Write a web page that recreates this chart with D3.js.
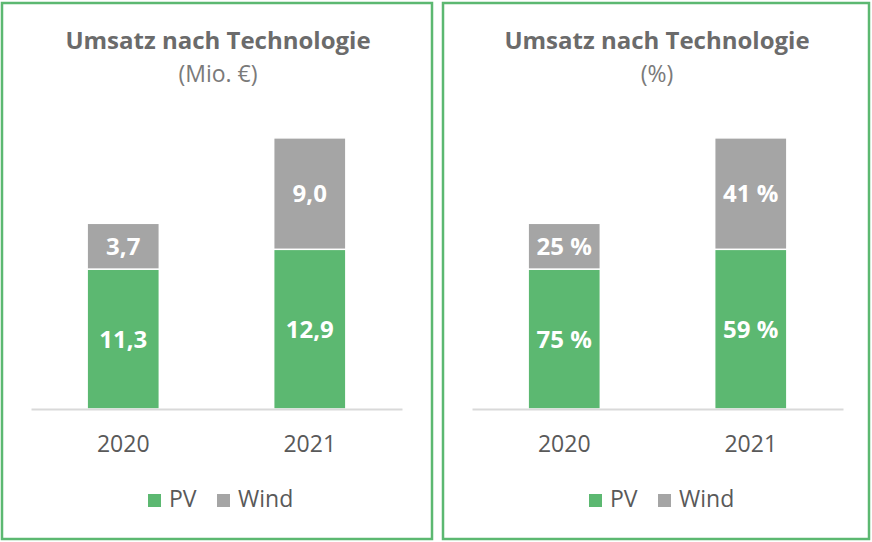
<!DOCTYPE html>
<html><head><meta charset="utf-8">
<script src="https://cdn.jsdelivr.net/npm/d3@7"></script>
<style>
html,body{margin:0;padding:0;background:#fff;}
svg{display:block;font-family:"Open Sans",sans-serif;}
</style></head>
<body><svg id="c" width="872" height="542"></svg>
<script>
const categories = ["2020", "2021"];
const seriesNames = ["PV", "Wind"];
const pvValues = [11.3, 12.9];
const windValues = [3.7, 9.0];
const pvPercent = [75, 59];
const windPercent = [25, 41];
const titles = ["Umsatz nach Technologie", "Umsatz nach Technologie"];
const subtitles = ["(Mio. €)", "(%)"];

const colors = {PV: "#5cb871", Wind: "#a5a5a5"};
const de = d3.formatLocale({decimal: ",", thousands: ".", grouping: [3], currency: ["", " €"]});
const fmtMio = de.format(".1f");
const fmtPct = d => d + " %";

const rows = categories.map((c, i) => ({cat: c, PV: pvValues[i], Wind: windValues[i], i}));
const stacked = d3.stack().keys(seriesNames)(rows);

const svg = d3.select("#c");

const panels = [
  {x0: 2, x1: 432, labels: {PV: pvValues.map(fmtMio), Wind: windValues.map(fmtMio)}},
  {x0: 443, x1: 869, labels: {PV: pvPercent.map(fmtPct), Wind: windPercent.map(fmtPct)}}
];

panels.forEach((p, pi) => {
  const g = svg.append("g");
  g.append("rect").attr("x", p.x0).attr("y", 3).attr("width", p.x1 - p.x0).attr("height", 536)
    .attr("fill", "#fff").attr("stroke", "#5cb871").attr("stroke-width", 2.5);
  const cx = (p.x0 + p.x1) / 2 + 1;
  g.append("text").attr("x", cx).attr("y", 49).attr("text-anchor", "middle")
    .attr("font-size", 24).attr("font-weight", 700).attr("fill", "#6b6b6b").text(titles[pi]);
  g.append("text").attr("x", cx).attr("y", 82).attr("text-anchor", "middle")
    .attr("font-size", 23).attr("fill", "#7a7a7a").text(subtitles[pi]);

  const axL = p.x0 + 29, axR = p.x0 + 400;
  const x = d3.scaleBand().domain(categories).range([axL, axR]).paddingInner(0.613).paddingOuter(0.301);
  const y = d3.scaleLinear().domain([0, 25]).range([409, 409 - 309.5]);

  stacked.forEach(layer => {
    const key = layer.key;
    g.append("g").selectAll("rect").data(layer).join("rect")
      .attr("x", d => x(d.data.cat)).attr("width", x.bandwidth())
      .attr("y", d => y(d[1])).attr("height", d => y(d[0]) - y(d[1]))
      .attr("fill", colors[key]).attr("stroke", "#fff").attr("stroke-width", 1.5);
    g.append("g").selectAll("text").data(layer).join("text")
      .attr("x", d => x(d.data.cat) + x.bandwidth() / 2)
      .attr("y", d => (y(d[0]) + y(d[1])) / 2)
      .attr("dy", "0.36em").attr("text-anchor", "middle")
      .attr("font-size", 24).attr("font-weight", 700).attr("fill", "#fff")
      .text(d => p.labels[key][d.data.i]);
  });

  const axis = g.append("g").attr("transform", "translate(0,409)")
    .call(d3.axisBottom(x).tickSize(0).tickPadding(27));
  axis.select(".domain").attr("stroke", "#d9d9d9").attr("stroke-width", 2);
  axis.selectAll("text").attr("font-size", 23).attr("fill", "#595959")
    .attr("font-family", "Open Sans, sans-serif");

  // legend
  const lg = g.append("g").attr("transform", `translate(${p.x0 + 146},0)`);
  const offs = [0, 69];
  seriesNames.forEach((s, si) => {
    lg.append("rect").attr("x", offs[si]).attr("y", 494).attr("width", 13).attr("height", 13).attr("fill", colors[s]);
    lg.append("text").attr("x", offs[si] + 21).attr("y", 507).attr("font-size", 23)
      .attr("fill", "#595959").text(s);
  });
});
</script></body></html>
